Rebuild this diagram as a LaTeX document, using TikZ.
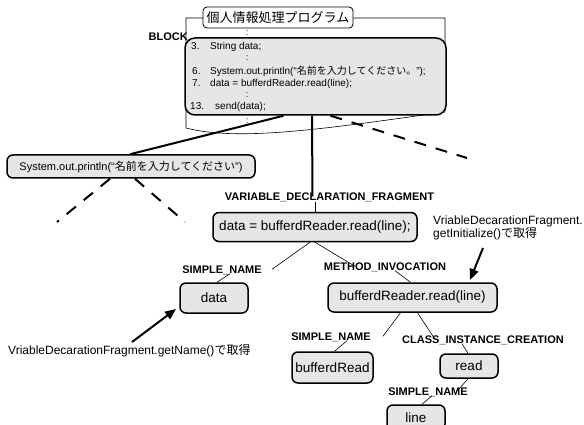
\documentclass[tikz,border=0pt]{standalone}
\usepackage{fontspec}
\setmainfont{Liberation Sans}
\newfontfamily\jp{Noto Sans CJK JP}
\usetikzlibrary{arrows.meta}
\definecolor{boxgray}{RGB}{230,230,230}
\tikzset{
  box/.style={draw, line width=1.5pt, rounded corners=6pt, fill=boxgray, inner sep=0pt, align=center},
  lab/.style={font=\bfseries\fontsize{11}{13}\selectfont, inner sep=0pt},
  conn/.style={line width=0.6pt},
  thickconn/.style={line width=2pt},
  dashconn/.style={line width=2pt, dash pattern=on 12pt off 10pt},
  note/.style={font=\fontsize{12}{13}\selectfont, inner sep=0pt, align=left},
  pointer/.style={line width=2pt, -{Triangle[length=11pt,width=9pt]}},
  code/.style={font=\fontsize{10}{12}\selectfont, inner sep=0pt, anchor=base west},
  dots/.style={font=\fontsize{9}{10}\selectfont, inner sep=0pt}
}
\begin{document}
\begin{tikzpicture}[x=1pt,y=-1pt]
\clip (0,0) rectangle (584,425);
\fill[white] (0,0) rectangle (584,425);
% frame (document shape)
\draw[line width=0.6pt] (203,18) -- (186,18) -- (186,128)
  .. controls (240,142) and (330,128) .. (445,112) -- (445,18) -- (353,18);
\node[draw, line width=0.8pt, rounded corners=4pt, fill=white, minimum width=150pt, minimum height=21pt, inner sep=0pt,
  font=\jp\fontsize{13}{15}\selectfont] (title) at (278,17.5) {個人情報処理プログラム};
% dots
\node[dots] (d0) at (247,33) {:};
\node[dots] (d3) at (247,121) {:};
% block
\node[box, rounded corners=10pt, minimum width=261pt, minimum height=77pt] (block) at (315.5,76.5) {};
\node[lab, anchor=east] (blocklab) at (188,37) {BLOCK};
\node[code] (l3n) at (191,50) {3.};
\node[code] (l3) at (210,50) {String data;};
\node[dots] (d1) at (247,58) {:};
\node[code] (l6n) at (192,75) {6.};
\node[code] (l6) at (210,75) {System.out.println(“{\jp 名前を入力してください。}”);};
\node[code] (l7n) at (192,87) {7.};
\node[code] (l7) at (210,87) {data = bufferdReader.read(line);};
\node[dots] (d2) at (247,95) {:};
\node[code] (l13n) at (190,110) {13.};
\node[code] (l13) at (215,110) {send(data);};
% System.out box
\node[box, minimum width=248pt, minimum height=23pt, font=\fontsize{11}{13}\selectfont] (sysout) at (131,166.5)
  {System.out.println(“{\jp 名前を入力してください}”)};
\coordinate (dl) at (57,222);
\coordinate (dr) at (185,222);
\coordinate (br) at (467,158);
% variable declaration fragment
\node[lab] (vdflab) at (329.5,197) {VARIABLE\_DECLARATION\_FRAGMENT};
\node[box, minimum width=204pt, minimum height=29pt, font=\fontsize{13.5}{16}\selectfont] (vdf) at (315,227) {data = bufferdReader.read(line);};
% connectors from block
\draw[thickconn] ([xshift=-32pt]block.south) -- ([xshift=-1pt]sysout.north);
\draw[thickconn] ([xshift=-3.5pt]block.south) -- ([xshift=-17pt,yshift=-4pt]vdflab.north);
\draw[dashconn] ([xshift=15pt]block.south) -- (br);
\draw[dashconn] ([xshift=-21pt]sysout.south) -- (dl);
\draw[dashconn] ([xshift=4pt]sysout.south) -- (dr);
\draw[conn] (vdf.north) -- ([xshift=-14.5pt]vdflab.south);
% simple name 1
\node[lab] (sn1lab) at (222,270) {SIMPLE\_NAME};
\node[box, minimum width=68pt, minimum height=30pt, font=\fontsize{13.5}{16}\selectfont] (sn1) at (214,298) {data};
% method invocation
\node[lab] (milab) at (385,267) {METHOD\_INVOCATION};
\node[box, minimum width=169pt, minimum height=29pt, font=\fontsize{13.5}{16}\selectfont] (mi) at (412.5,297.5) {bufferdReader.read(line)};
\draw[conn] ([xshift=-5pt]vdf.south) -- ([xshift=50pt,yshift=-4pt]sn1lab.north);
\draw[conn] ([xshift=0pt]vdf.south) -- ([xshift=-30pt,yshift=-4pt]milab.north);
\draw[conn] ([xshift=3pt]sn1.north) -- ([xshift=8pt,yshift=1pt]sn1lab.south);
\draw[conn] ([xshift=-2pt]mi.north) -- ([xshift=10pt,yshift=1pt]milab.south);
% annotations
\node[note, anchor=north west] (note1) at (433,216) {VriableDecarationFragment.\\getInitialize(){\jp で取得}};
\node[note, anchor=west] (note2) at (8,351) {VriableDecarationFragment.getName(){\jp で取得}};
\coordinate (p1s) at (483,248);
\coordinate (p1e) at (470,280);
\coordinate (p2s) at (132,342);
\coordinate (p2e) at (176,309);
\draw[pointer] (p1s) -- (p1e);
\draw[pointer] (p2s) -- (p2e);
% lower level
\node[lab] (sn2lab) at (331,337) {SIMPLE\_NAME};
\node[box, minimum width=81pt, minimum height=31pt, font=\fontsize{13.5}{16}\selectfont] (sn2) at (332.5,367.5) {bufferdRead};
\node[lab] (cicLab) at (483,340) {CLASS\_INSTANCE\_CREATION};
\node[box, minimum width=58pt, minimum height=24pt, font=\fontsize{13.5}{16}\selectfont] (cic) at (469,366) {read};
\node[lab] (sn3lab) at (428,392) {SIMPLE\_NAME};
\node[box, minimum width=58pt, minimum height=25pt, font=\fontsize{13.5}{16}\selectfont] (sn3) at (416,417.5) {line};
\draw[conn] ([xshift=-12pt]mi.south) -- ([xshift=52pt,yshift=-4pt]sn2lab.north);
\draw[conn] ([xshift=5pt]mi.south) -- ([xshift=-48pt,yshift=-4pt]cicLab.north);
\draw[conn] ([xshift=2pt]sn2.north) -- ([xshift=16pt,yshift=1pt]sn2lab.south);
\draw[conn] ([xshift=-1pt]cic.north) -- ([xshift=-21pt,yshift=1pt]cicLab.south);
\draw[conn] ([xshift=-1pt]cic.south) -- ([xshift=29pt,yshift=-4pt]sn3lab.north);
\draw[conn] ([xshift=6pt]sn3.north) -- ([xshift=4pt,yshift=1pt]sn3lab.south);
\end{tikzpicture}
\end{document}
